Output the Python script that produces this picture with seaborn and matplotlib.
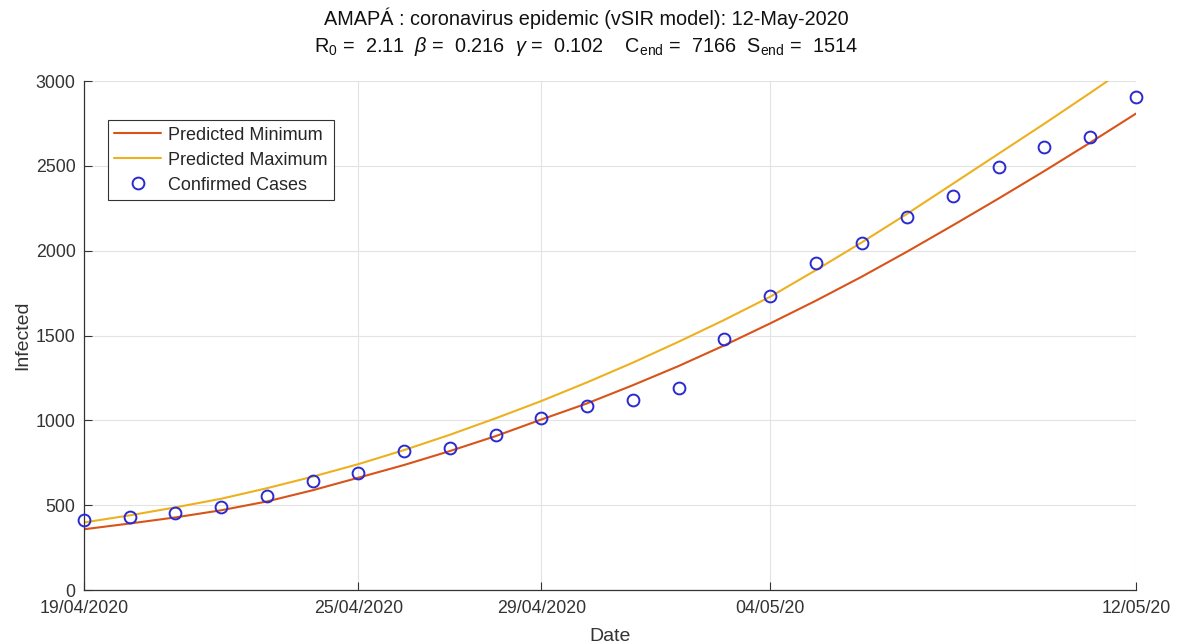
import pandas as pd
import numpy as np
import matplotlib.pyplot as plt
import seaborn as sns

sns.set_theme(style='whitegrid')
plt.rcParams['font.family'] = ['Liberation Sans', 'DejaVu Sans']
plt.rcParams['mathtext.fontset'] = 'custom'
plt.rcParams['mathtext.rm'] = 'Liberation Sans'
plt.rcParams['mathtext.it'] = 'Liberation Sans:italic'
plt.rcParams['xtick.direction'] = 'in'
plt.rcParams['ytick.direction'] = 'in'

# --- data ---
dates = pd.date_range('2020-04-19', '2020-05-12', freq='D')
confirmed = [412, 431, 455, 489, 552, 643, 688, 818, 838, 915, 1015, 1082, 1122,
             1188, 1480, 1733, 1928, 2043, 2196, 2320, 2492, 2612, 2671, 2907]
pred_min = [358, 392, 428, 470, 522, 588, 662, 737, 819, 907, 1005, 1100, 1207,
            1320, 1442, 1571, 1705, 1846, 1995, 2150, 2308, 2470, 2637, 2808]
pred_max = [398, 440, 487, 538, 600, 668, 742, 825, 915, 1012, 1114, 1224, 1340,
            1463, 1592, 1728, 1885, 2048, 2218, 2395, 2572, 2749, 2930, 3115]
tick_dates = pd.to_datetime(['2020-04-19', '2020-04-25', '2020-04-29', '2020-05-04', '2020-05-12'])
tick_labels = ['19/04/2020', '25/04/2020', '29/04/2020', '04/05/20', '12/05/20']

df = pd.DataFrame({'Date': dates, 'Confirmed': confirmed,
                   'Min': pred_min, 'Max': pred_max})

fig = plt.figure(figsize=(11.79, 6.43), dpi=100)
ax = fig.add_axes([0.0712, 0.0824, 0.8923, 0.7916])

sns.lineplot(data=df, x='Date', y='Min', ax=ax, color='#D95319', lw=1.5,
             label='Predicted Minimum')
sns.lineplot(data=df, x='Date', y='Max', ax=ax, color='#EDB120', lw=1.5,
             label='Predicted Maximum')
sns.lineplot(data=df, x='Date', y='Confirmed', ax=ax, linestyle='none', marker='o',
             markersize=8.5, markerfacecolor='none', markeredgecolor='#2a2ad0',
             markeredgewidth=1.4, label='Confirmed Cases', clip_on=False, zorder=5)

ax.set_xlim(dates[0], dates[-1])
ax.set_ylim(0, 3000)
ax.set_yticks(np.arange(0, 3001, 500))
ax.set_xticks(tick_dates)
ax.set_xticklabels(tick_labels)

ax.grid(True, color='#e3e3e3', lw=0.8)
for s in ['top', 'right']:
    ax.spines[s].set_visible(False)
for s in ['left', 'bottom']:
    ax.spines[s].set_color('#333333')
    ax.spines[s].set_linewidth(0.9)
ax.tick_params(axis='both', which='major', direction='in', length=6, width=0.8,
               color='#333333', labelsize=12.8, labelcolor='#333333',
               left=True, bottom=True)
ax.tick_params(axis='x', pad=7)
ax.tick_params(axis='y', pad=6)
ax.set_xlabel('Date', fontsize=14, color='#333333', labelpad=8)
ax.set_ylabel('Infected', fontsize=14, color='#333333', labelpad=3)

leg = ax.legend(loc='upper left', bbox_to_anchor=(0.0228, 0.923), borderaxespad=0,
                fontsize=13, frameon=True, fancybox=False, framealpha=1,
                borderpad=0.35, handlelength=2.6, handletextpad=0.4, labelspacing=0.45)
leg.get_frame().set_edgecolor('#333333')
leg.get_frame().set_linewidth(0.8)

fig.text(0.497, 0.972, 'AMAPÁ : coronavirus epidemic (vSIR model): 12-May-2020',
         ha='center', va='center', fontsize=14.3, color='#111111')
fig.text(0.497, 0.928,
         r'R$_0$ =  2.11  $\beta$ =  0.216  $\gamma$ =  0.102    C$_{\rm end}$ =  7166  S$_{\rm end}$ =  1514',
         ha='center', va='center', fontsize=14.3, color='#111111')

fig.savefig('out.png', dpi=100)
